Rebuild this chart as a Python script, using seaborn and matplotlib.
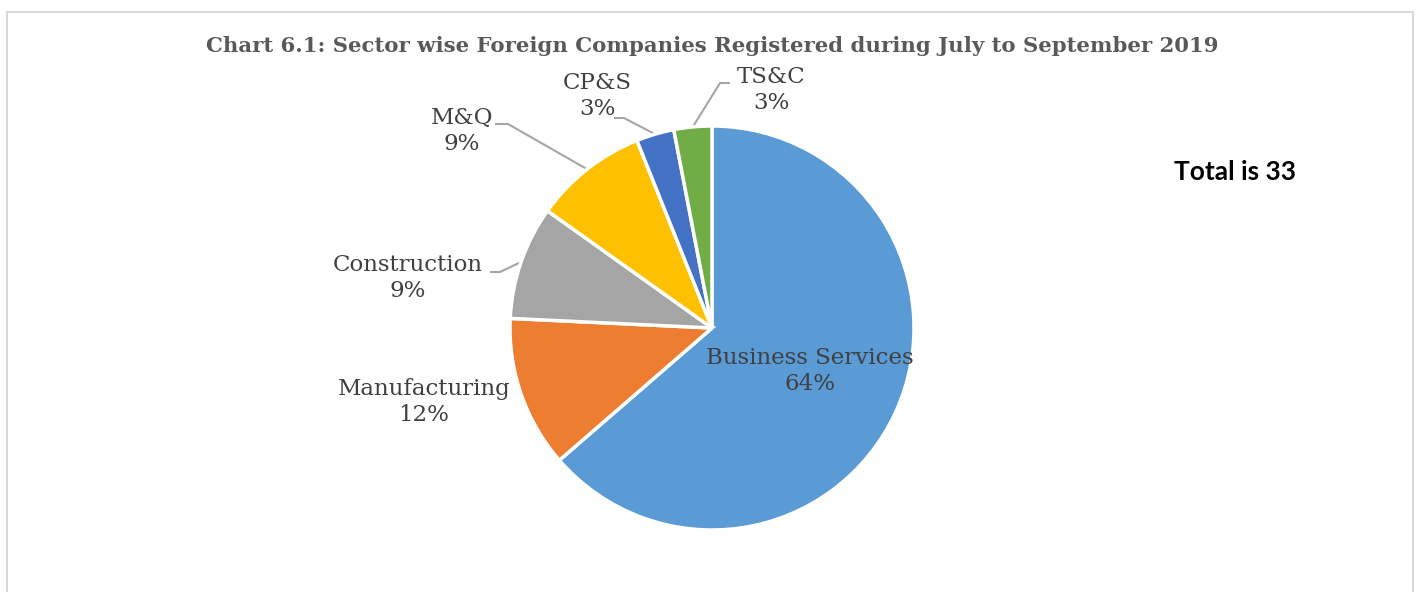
import numpy as np
import matplotlib
matplotlib.use("Agg")
import matplotlib.pyplot as plt
from matplotlib.patches import Rectangle
import seaborn as sns

# data
sectors = ["Business Services", "Manufacturing", "Construction", "M&Q", "CP&S", "TS&C"]
counts = [21, 4, 3, 3, 1, 1]
colors = ["#5B9BD5", "#ED7D31", "#A5A5A5", "#FFC000", "#4472C4", "#70AD47"]
title = "Chart 6.1: Sector wise Foreign Companies Registered during July to September 2019"
total_note = "Total is 33"

# label layout (pixels, y from top): text centre, line anchor
label_pos = {
    "Business Services": (810, 371),
    "Manufacturing": (424, 402),
    "Construction": (408, 278),
    "M&Q": (462, 131),
    "CP&S": (597, 96),
    "TS&C": (771, 90),
}
leader = {
    "Construction": ((490, 272), 10),
    "M&Q": ((495, 124), 13),
    "CP&S": ((614, 118), 10),
    "TS&C": ((730, 83), -10),
}

sns.set_theme(style="white")
W, H = 1423, 592
fig = plt.figure(figsize=(W / 100, H / 100), dpi=100)
ax = fig.add_axes([0, 0, 1, 1])

cx, cy, R = 712, 328, 202
palette = sns.color_palette(colors)
wedges, _ = ax.pie(counts, colors=palette, startangle=90, counterclock=False,
                   center=(cx, H - cy), radius=R, frame=True,
                   wedgeprops=dict(edgecolor="white", linewidth=2.5))
ax.set_xlim(0, W)
ax.set_ylim(0, H)
ax.set_aspect("equal")
ax.axis("off")

total = sum(counts)
for name, val, w in zip(sectors, counts, wedges):
    pct = round(val / total * 100)
    tx, ty = label_pos[name]
    ax.text(tx, H - ty, f"{name}\n{pct}%", ha="center", va="center",
            fontsize=16.5, family="DejaVu Serif", color="#404040", linespacing=1.2)
    if name in leader:
        (ax_, ay_), dx = leader[name]
        mid = np.deg2rad((w.theta1 + w.theta2) / 2)
        ex, ey = cx + R * np.cos(mid), (H - cy) + R * np.sin(mid)
        ax.plot([ax_, ax_ + dx, ex], [H - ay_, H - ay_, ey], color="#A6A6A6", lw=1.5,
                solid_capstyle="butt", zorder=0)

fig.text(712 / W, 1 - 46 / H, title, ha="center", va="center", fontsize=15.3,
         family="DejaVu Serif", fontweight="bold", color="#595959")
fig.text(1235 / W, 1 - 172 / H, total_note, ha="center", va="center", fontsize=19,
         family=["Lato", "DejaVu Sans"], fontweight="bold", color="black")

fig.patches.append(Rectangle((7 / W, -0.05), (1413 - 7) / W, 1.05 - 12 / H,
                             transform=fig.transFigure, fill=False,
                             edgecolor="#D9D9D9", lw=1.5))

fig.savefig("out.png", dpi=100)
